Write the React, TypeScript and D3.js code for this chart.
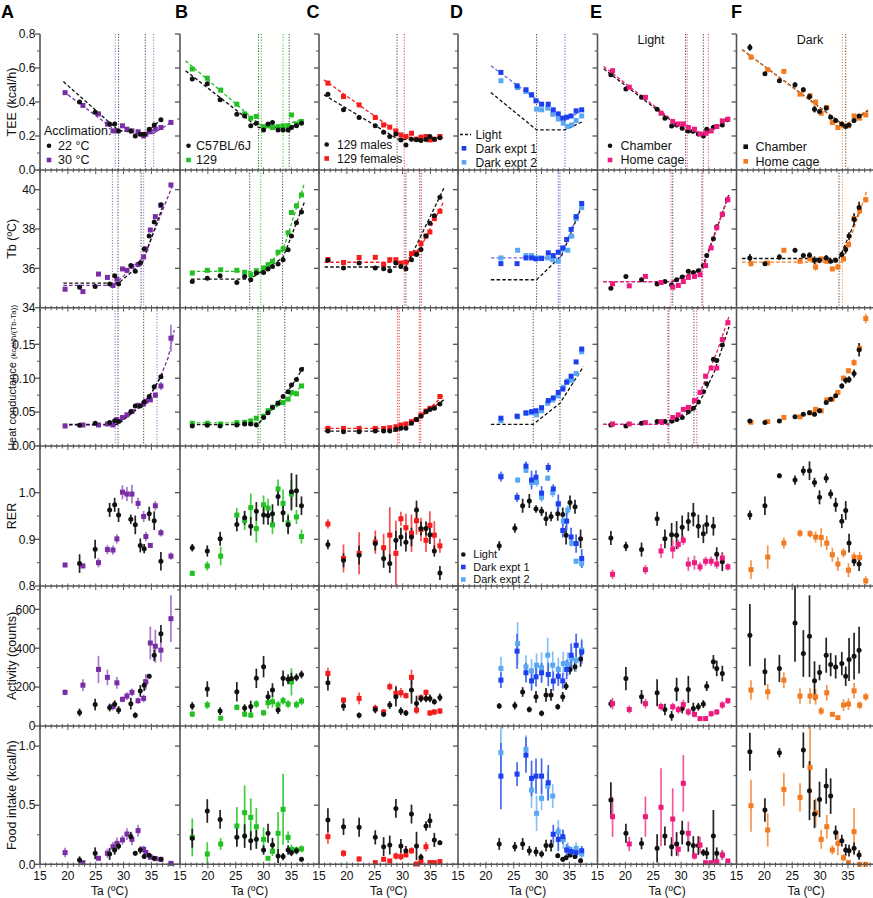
import React from "react";
import * as d3 from "d3";

// ---------------- colours ----------------
const BLACK = "#111111";
const PURPLE = "#7a2ea6";
const PURPLE_L = "#a679cc";
const GREEN = "#22c022";
const GREEN_L = "#3fd03f";
const RED = "#f41c1c";
const RED_L = "#f55050";
const BLUE1 = "#1d40ee";
const BLUE1_L = "#4668f0";
const BLUE2 = "#5aa8f2";
const BLUE2_L = "#86c0f5";
const PINK = "#ee1a7e";
const PINK_L = "#f25a9f";
const ORANGE = "#f47a20";
const ORANGE_L = "#f6964e";
const DARKFIT = "#6b6be0";
const GREYLINE = "#555555";

// ---------------- labels ----------------
const COL_LETTERS = ["A", "B", "C", "D", "E", "F"];
const X_TICKS = [15, 20, 25, 30, 35];
const Y_TICKS = [
  [0, 0.2, 0.4, 0.6, 0.8],
  [34, 36, 38, 40],
  [0, 0.05, 0.1, 0.15],
  [0.8, 0.9, 1.0],
  [0, 200, 400, 600],
  [0, 0.5, 1.0],
];
const Y_TICK_LABELS = [
  ["0.0", "0.2", "0.4", "0.6", "0.8"],
  ["34", "36", "38", "40"],
  ["0.00", "0.05", "0.10", "0.15"],
  ["0.8", "0.9", "1.0"],
  ["0", "200", "400", "600"],
  ["0.0", "0.5", "1.0"],
];
const Y_MINOR = [
  [0.1, 0.3, 0.5, 0.7],
  [35, 37, 39, 41],
  [0.025, 0.075, 0.125, 0.175],
  [0.85, 0.95, 1.05, 1.1],
  [100, 300, 500, 700],
  [0.25, 0.75],
];
const Y_DOMAINS = [
  [0, 0.8],
  [34, 41],
  [0, 0.204],
  [0.8, 1.1],
  [0, 720],
  [0, 1.17],
];

// ---------------- Column A: acclimation ----------------
const TA_A22 = [22.1, 24.9, 27.5, 28.4, 29.1, 31.3, 32.1, 33.0, 33.7, 34.6, 35.5, 36.7];
const TEE_A22 = [0.40, 0.34, 0.27, 0.27, 0.23, 0.23, 0.20, 0.21, 0.21, 0.24, 0.265, 0.295];
const TB_A22 = [35.04, 35.08, 35.2, 35.62, 35.21, 36.14, 35.85, 36.27, 36.99, 37.64, 38.36, 39.23];
const HC_A22 = [0.0305, 0.0335, 0.0345, 0.0374, 0.036, 0.0507, 0.059, 0.059, 0.065, 0.073, 0.0875, 0.102];
const RER_A22 = [0.848, 0.879, 0.963, 0.974, 0.952, 0.943, 0.931, 0.887, 0.88, 0.955, 0.94, 0.853];
const ACT_A22 = [70, 110, 95, 112, 82, 115, 55, 180, 210, 256, 364, 475];
const FOOD_A22 = [0.037, 0.093, 0.087, 0.121, 0.155, 0.234, 0.093, 0.121, 0.065, 0.076, 0.051, 0.042];
const RER_ERR_A22 = [0.02, 0.02, 0.015, 0.015, 0.015, 0.01, 0.02, 0.015, 0.01, 0.015, 0.02, 0.02];
const ACT_ERR_A22 = [20, 30, 20, 20, 20, 30, 15, 30, 30, 10, 30, 45];
const FOOD_ERR_A22 = [0.03, 0.05, 0.05, 0.04, 0.03, 0.04, 0.02, 0.03, 0.02, 0.02, 0.01, 0.01];

const TA_A30 = [19.5, 22.7, 25.5, 27.1, 28.1, 28.8, 29.8, 30.6, 31.5, 32.6, 33.6, 34.0, 34.8, 35.7, 36.7, 38.5];
const TEE_A30 = [0.455, 0.38, 0.33, 0.27, 0.23, 0.23, 0.26, 0.24, 0.23, 0.225, 0.20, 0.21, 0.225, 0.24, 0.25, 0.28];
const TB_A30 = [34.94, 34.82, 35.71, 35.54, 35.13, 35.45, 35.97, 35.9, 36.1, 36.2, 36.58, 36.99, 37.95, 38.63, 39.2, 40.24];
const HC_A30 = [0.0295, 0.031, 0.031, 0.0325, 0.031, 0.039, 0.042, 0.046, 0.051, 0.06, 0.062, 0.066, 0.068, 0.075, 0.0885, 0.159];
const RER_A30 = [0.845, 0.843, 0.85, 0.878, 0.877, 0.901, 1.001, 0.997, 0.997, 0.977, 0.949, 0.906, 0.887, 0.972, 0.914, 0.864];
const ACT_A30 = [173, 210, 291, 250, 100, 222, 137, 154, 173, 130, 142, 227, 427, 410, 390, 552];
const FOOD_A30 = [0.099, 0.014, 0.051, 0.093, 0.149, 0.177, 0.206, 0.256, 0.211, 0.285, 0.127, 0.1, 0.06, 0.048, 0.042, 0.008];
const HC_ERR_A30 = [0.001, 0.001, 0.001, 0.001, 0.001, 0.002, 0.002, 0.002, 0.002, 0.002, 0.003, 0.003, 0.003, 0.004, 0.006, 0.02];
const RER_ERR_A30 = [0.005, 0.005, 0.01, 0.01, 0.01, 0.01, 0.015, 0.015, 0.02, 0.012, 0.012, 0.01, 0.005, 0.01, 0.008, 0.008];
const ACT_ERR_A30 = [15, 30, 70, 40, 20, 30, 15, 20, 20, 15, 20, 40, 85, 85, 60, 120];
const FOOD_ERR_A30 = [0.04, 0.01, 0.02, 0.04, 0.04, 0.05, 0.04, 0.05, 0.05, 0.05, 0.03, 0.02, 0.02, 0.01, 0.01, 0.02];

const FIT_TEE_A22 = [[19.2, 0.52], [29.1, 0.232], [33.9, 0.215], [37, 0.305]];
const FIT_TEE_A30 = [[19.2, 0.462], [28.6, 0.232], [35.4, 0.215], [38.8, 0.285]];
const FIT_TB_A22 = [[19.2, 35.25], [29.1, 35.25], [33.4, 36.3], [37.1, 39.2]];
const FIT_TB_A30 = [[19.2, 35.13], [28.2, 35.13], [33.7, 36.6], [38.9, 40.3]];
const FIT_HC_A22 = [[19.2, 0.032], [29.0, 0.032], [31, 0.045], [33, 0.058], [35, 0.078], [37, 0.107]];
const FIT_HC_A30 = [[19.2, 0.031], [28.5, 0.031], [30.5, 0.043], [32.5, 0.056], [34.5, 0.072], [36.5, 0.1], [38, 0.13], [39.1, 0.171]];
const VL_TEE_A22 = [29.1, 33.9];
const VL_TEE_A30 = [28.5, 35.4];
const VL_TB_A22 = [29.0, 33.15];
const VL_TB_A30 = [28.0, 33.6];
const VL_HC_A22 = [29.0, 33.6];
const VL_HC_A30 = [28.5, 36.0];

// ---------------- Column B: strains ----------------
const TA_B6 = [17.2, 19.9, 22.2, 25.2, 26.6, 27.7, 28.7, 30.0, 30.8, 31.6, 32.6, 33.5, 34.4, 35.0, 35.9, 36.8];
const TEE_B6 = [0.535, 0.507, 0.413, 0.328, 0.318, 0.26, 0.275, 0.236, 0.27, 0.28, 0.236, 0.236, 0.236, 0.25, 0.26, 0.275];
const TB_B6 = [35.33, 35.5, 35.62, 35.28, 35.59, 35.42, 35.76, 35.79, 35.97, 36.1, 36.22, 36.44, 36.95, 37.64, 38.32, 38.87];
const HC_B6 = [0.0295, 0.0305, 0.0295, 0.031, 0.0325, 0.0325, 0.031, 0.042, 0.049, 0.057, 0.063, 0.073, 0.08, 0.09, 0.098, 0.113];
const RER_B6 = [0.882, 0.875, 0.901, 0.932, 0.946, 0.928, 0.96, 0.952, 0.951, 0.955, 0.992, 0.957, 0.931, 1.002, 1.004, 0.972];
const ACT_B6 = [103, 190, 77, 176, 92, 100, 245, 305, 150, 185, 82, 245, 240, 244, 250, 265];
const FOOD_B6 = [0.22, 0.451, 0.38, 0.228, 0.239, 0.2, 0.211, 0.121, 0.262, 0.163, 0.07, 0.065, 0.121, 0.099, 0.115, 0.042];
const RER_ERR_B6 = [0.008, 0.012, 0.015, 0.015, 0.015, 0.02, 0.02, 0.02, 0.02, 0.02, 0.02, 0.02, 0.02, 0.04, 0.035, 0.02];
const ACT_ERR_B6 = [20, 40, 20, 50, 20, 30, 50, 55, 30, 35, 20, 40, 25, 30, 20, 20];
const FOOD_ERR_B6 = [0.08, 0.1, 0.08, 0.08, 0.1, 0.08, 0.08, 0.04, 0.08, 0.06, 0.06, 0.03, 0.04, 0.03, 0.03, 0.02];

const TA_B129 = [17.2, 19.9, 22.3, 25.2, 26.6, 27.7, 28.7, 30.0, 30.8, 31.6, 32.6, 33.5, 34.4, 35.0, 35.9, 36.8];
const TEE_B129 = [0.594, 0.54, 0.47, 0.387, 0.33, 0.305, 0.315, 0.255, 0.26, 0.25, 0.255, 0.26, 0.26, 0.324, 0.271, 0.285];
const TB_B129 = [35.76, 35.9, 35.93, 35.9, 35.8, 35.68, 35.88, 36.02, 36.19, 36.36, 36.82, 36.99, 37.81, 38.84, 39.18, 39.73];
const HC_B129 = [0.0335, 0.0335, 0.0325, 0.0345, 0.035, 0.037, 0.041, 0.044, 0.052, 0.057, 0.063, 0.064, 0.069, 0.079, 0.077, 0.0885];
const RER_B129 = [0.827, 0.843, 0.864, 0.952, 0.94, 0.968, 0.923, 0.974, 0.967, 0.931, 1.008, 0.977, 0.935, 0.997, 0.948, 0.906];
const ACT_B129 = [61, 108, 40, 96, 61, 56, 113, 68, 120, 125, 108, 130, 113, 227, 110, 128];
const FOOD_B129 = [0.228, 0.087, 0.172, 0.324, 0.437, 0.397, 0.318, 0.211, 0.051, 0.11, 0.262, 0.465, 0.228, 0.127, 0.12, 0.13];
const RER_ERR_B129 = [0.006, 0.01, 0.02, 0.015, 0.02, 0.03, 0.03, 0.02, 0.02, 0.02, 0.02, 0.03, 0.02, 0.03, 0.015, 0.015];
const ACT_ERR_B129 = [15, 20, 10, 15, 15, 15, 20, 15, 30, 30, 20, 20, 20, 70, 20, 20];
const FOOD_ERR_B129 = [0.16, 0.1, 0.05, 0.16, 0.23, 0.16, 0.16, 0.1, 0.01, 0.04, 0.18, 0.3, 0.05, 0.04, 0.03, 0.03];

const FIT_TEE_B6 = [[16, 0.584], [29.1, 0.25], [34.6, 0.25], [36.8, 0.28]];
const FIT_TEE_B129 = [[16, 0.643], [29.6, 0.26], [33.5, 0.26], [36.8, 0.3]];
const FIT_TB_B6 = [[17, 35.45], [27.5, 35.45], [33.5, 36.55], [37.3, 39.35]];
const FIT_TB_B129 = [[17, 35.85], [29.5, 35.85], [33.5, 36.95], [37.3, 40.3]];
const FIT_HC_B6 = [[17, 0.0315], [28.9, 0.0315], [31, 0.05], [33, 0.068], [35, 0.088], [37.3, 0.118]];
const FIT_HC_B129 = [[17, 0.034], [29.2, 0.034], [31, 0.05], [33, 0.062], [35, 0.075], [37.3, 0.092]];
const VL_TEE_B6 = [29.1, 34.6];
const VL_TEE_B129 = [29.6, 33.5];
const VL_TB_B6 = [27.5, 33.4];
const VL_TB_B129 = [29.5];
const VL_HC_B6 = [29.0, 33.8];
const VL_HC_B129 = [29.4];

// ---------------- Column C: sex ----------------
const TA_CM = [16.6, 19.4, 22.2, 25.1, 26.6, 27.7, 28.8, 29.7, 30.6, 31.6, 32.5, 33.3, 34.2, 34.9, 35.7, 36.7];
const TEE_CM = [0.446, 0.354, 0.309, 0.26, 0.222, 0.197, 0.212, 0.177, 0.147, 0.181, 0.178, 0.173, 0.18, 0.197, 0.181, 0.19];
const TB_CM = [36.41, 36.02, 36.27, 36.02, 35.98, 35.88, 36.27, 36.1, 35.98, 36.44, 36.7, 36.96, 37.64, 38.29, 38.67, 39.61];
const HC_CM = [0.022, 0.021, 0.021, 0.022, 0.022, 0.022, 0.0246, 0.026, 0.026, 0.0334, 0.039, 0.044, 0.0507, 0.054, 0.0556, 0.062];
const RER_CM = [0.889, 0.855, 0.866, 0.891, 0.859, 0.848, 0.898, 0.905, 0.894, 0.905, 0.963, 0.923, 0.923, 0.91, 0.875, 0.828];
const ACT_CM = [222, 103, 55, 85, 61, 108, 150, 77, 67, 185, 116, 142, 142, 142, 125, 147];
const FOOD_CM = [0.375, 0.318, 0.313, 0.228, 0.149, 0.163, 0.473, 0.155, 0.115, 0.425, 0.155, 0.059, 0.324, 0.369, 0.206, 0.183];
const RER_ERR_CM = [0.01, 0.015, 0.02, 0.015, 0.02, 0.02, 0.02, 0.02, 0.02, 0.02, 0.02, 0.015, 0.015, 0.02, 0.012, 0.015];
const ACT_ERR_CM = [40, 25, 15, 20, 15, 20, 50, 20, 15, 70, 40, 20, 20, 20, 15, 20];
const FOOD_ERR_CM = [0.1, 0.07, 0.08, 0.06, 0.08, 0.08, 0.08, 0.06, 0.04, 0.08, 0.12, 0.03, 0.04, 0.06, 0.06, 0.02];

const TA_CF = [16.6, 19.4, 22.2, 25.1, 26.6, 27.7, 28.8, 29.7, 30.6, 31.6, 32.5, 33.3, 34.2, 34.9, 35.7, 36.7];
const TEE_CF = [0.511, 0.432, 0.383, 0.309, 0.265, 0.252, 0.23, 0.206, 0.197, 0.216, 0.181, 0.193, 0.197, 0.177, 0.181, 0.197];
const TB_CF = [36.45, 36.3, 36.55, 36.56, 36.19, 36.44, 36.44, 36.27, 36.31, 36.75, 36.79, 37.26, 37.64, 37.85, 38.53, 38.9];
const HC_CF = [0.026, 0.026, 0.026, 0.026, 0.026, 0.027, 0.0285, 0.031, 0.0325, 0.036, 0.039, 0.0457, 0.0516, 0.0556, 0.057, 0.073];
const RER_CF = [0.933, 0.859, 0.87, 0.894, 0.882, 0.909, 0.87, 0.944, 0.925, 0.913, 0.94, 0.921, 0.898, 0.93, 0.909, 0.886];
const ACT_CF = [270, 133, 142, 90, 72, 202, 168, 171, 156, 250, 82, 145, 173, 67, 72, 77];
const FOOD_CF = [0.234, 0.093, 0.045, 0.014, 0.042, 0.028, 0.07, 0.065, 0.079, 0.115, 0.003, 0.023, 0.149, 0.014, 0.014, 0.023];
const RER_ERR_CF = [0.01, 0.03, 0.045, 0.025, 0.03, 0.06, 0.07, 0.015, 0.03, 0.04, 0.03, 0.025, 0.025, 0.03, 0.03, 0.015];
const ACT_ERR_CF = [30, 15, 30, 20, 15, 20, 40, 25, 15, 40, 20, 15, 15, 15, 15, 15];
const FOOD_ERR_CF = [0.06, 0.03, 0.02, 0.01, 0.02, 0.01, 0.03, 0.03, 0.02, 0.03, 0.01, 0.01, 0.04, 0.01, 0.01, 0.01];

const FIT_TEE_CM = [[15.9, 0.442], [29.2, 0.181], [33.4, 0.178], [37, 0.19]];
const FIT_TEE_CF = [[15.9, 0.53], [30.3, 0.193], [37.3, 0.19]];
const FIT_TB_CM = [[16, 36.07], [30.6, 36.07], [37.4, 40.07]];
const FIT_TB_CF = [[16, 36.31], [30.3, 36.31], [33.3, 37.09], [37.3, 39.35]];
const FIT_HC_CM = [[16, 0.022], [29, 0.022], [31, 0.03], [33, 0.042], [35, 0.054], [37.4, 0.068]];
const FIT_HC_CF = [[16, 0.026], [28.8, 0.026], [31, 0.035], [33, 0.045], [35, 0.056], [37.3, 0.075]];
const VL_TEE_CM = [29.0];
const VL_TEE_CF = [30.3];
const VL_TB_CM = [30.6, 33.1];
const VL_TB_CF = [30.3, 33.4];
const VL_HC_CM = [29.4, 33.25];
const VL_HC_CF = [29.1, 33.0];

// ---------------- Column D: light / dark ----------------
const TA_D1 = [22.7, 25.6, 27.2, 28.2, 29.0, 30.0, 31.2, 32.1, 33.0, 33.8, 34.5, 35.3, 36.2, 37.2];
const TEE_D1 = [0.574, 0.495, 0.472, 0.442, 0.407, 0.387, 0.387, 0.354, 0.33, 0.305, 0.311, 0.318, 0.348, 0.354];
const TB_D1 = [36.24, 36.24, 36.53, 36.53, 36.48, 36.5, 36.79, 36.65, 36.82, 37.04, 37.47, 37.98, 38.63, 39.3];
const HC_D1 = [0.041, 0.044, 0.049, 0.0507, 0.052, 0.0566, 0.067, 0.071, 0.079, 0.084, 0.094, 0.103, 0.124, 0.143];
const RER_D1 = [1.034, 0.99, 1.057, 1.027, 1.033, 0.999, 1.054, 1.008, 0.976, 0.919, 0.939, 0.905, 0.891, 0.859];
const ACT_D1 = [236, 385, 274, 232, 253, 274, 265, 231, 256, 232, 291, 364, 415, 381];
const FOOD_D1 = [0.746, 0.763, 0.924, 0.727, 0.746, 0.746, 0.69, 0.254, 0.211, 0.234, 0.121, 0.107, 0.099, 0.115];
const RER_ERR_D1 = [0.01, 0.01, 0.01, 0.02, 0.015, 0.015, 0.01, 0.01, 0.02, 0.015, 0.02, 0.02, 0.02, 0.02];
const ACT_ERR_D1 = [40, 90, 50, 50, 50, 50, 60, 50, 50, 40, 50, 60, 60, 60];
const FOOD_ERR_D1 = [0.28, 0.1, 0.15, 0.15, 0.15, 0.15, 0.15, 0.08, 0.1, 0.06, 0.05, 0.04, 0.04, 0.04];

const TA_D2 = [22.7, 25.7, 27.2, 28.2, 29.1, 30.0, 31.1, 32.0, 33.0, 33.9, 34.7, 35.4, 36.2, 37.2];
const TEE_D2 = [0.525, 0.485, 0.462, 0.442, 0.358, 0.354, 0.364, 0.328, 0.3, 0.275, 0.256, 0.265, 0.291, 0.318];
const TB_D2 = [36.53, 36.92, 36.65, 36.65, 36.53, 36.53, 36.53, 36.44, 36.36, 36.99, 36.92, 37.64, 38.53, 39.09];
const HC_D2 = [0.0374, 0.043, 0.048, 0.049, 0.046, 0.052, 0.063, 0.068, 0.074, 0.0866, 0.096, 0.097, 0.107, 0.139];
const RER_D2 = [1.036, 1.027, 1.048, 1.022, 1.022, 0.99, 1.031, 1.0, 0.976, 0.939, 0.963, 0.892, 0.853, 0.848];
const ACT_D2 = [296, 424, 304, 284, 313, 300, 364, 313, 291, 321, 318, 347, 338, 390];
const FOOD_D2 = [0.944, null, 0.972, 0.628, 0.431, 0.558, 0.662, 0.577, 0.276, 0.211, 0.135, 0.107, 0.135, 0.087];
const RER_ERR_D2 = [0.01, 0.006, 0.006, 0.01, 0.01, 0.01, 0.006, 0.01, 0.01, 0.01, 0.01, 0.006, 0.006, 0.01];
const ACT_ERR_D2 = [60, 110, 60, 60, 60, 80, 90, 70, 60, 60, 60, 60, 60, 60];
const FOOD_ERR_D2 = [0.22, 0, 0.12, 0.15, 0.15, 0.1, 0.12, 0.1, 0.1, 0.08, 0.05, 0.04, 0.05, 0.04];

const TA_DL = [22.4, 25.2, 26.6, 27.8, 29.0, 30.0, 30.8, 31.7, 32.9, 33.8, 34.4, 35.1, 36.0, 37.0];
const RER_DL = [0.886, 0.924, 0.972, 0.982, 0.965, 0.96, 0.944, 0.949, 0.955, 0.953, 0.909, 0.979, 0.97, 0.901];
const ACT_DL = [103, 105, 175, 85, 150, 65, 160, 160, 99, 150, 205, 290, 305, 345];
const FOOD_DL = [0.172, 0.149, 0.172, 0.115, 0.107, 0.087, 0.158, 0.158, 0.073, 0.042, 0.056, 0.079, 0.065, 0.031];
const RER_ERR_DL = [0.01, 0.01, 0.015, 0.015, 0.008, 0.01, 0.015, 0.01, 0.015, 0.015, 0.02, 0.015, 0.015, 0.02];
const ACT_ERR_DL = [15, 20, 25, 15, 30, 15, 35, 30, 15, 25, 20, 25, 25, 40];
const FOOD_ERR_DL = [0.05, 0.04, 0.05, 0.04, 0.04, 0.03, 0.05, 0.05, 0.02, 0.02, 0.02, 0.02, 0.02, 0.02];

const FIT_TEE_DL = [[20.9, 0.456], [29.1, 0.236], [34.2, 0.236], [37.4, 0.285]];
const FIT_TEE_DD = [[20.9, 0.613], [34.2, 0.291], [37.4, 0.354]];
const FIT_TB_DL = [[20.9, 35.42], [29.1, 35.42], [33.6, 36.65], [37.5, 39.35]];
const FIT_TB_DD = [[20.9, 36.53], [33.3, 36.53], [37.5, 39.44]];
const FIT_HC_DL = [[20.9, 0.032], [28.5, 0.032], [33.3, 0.063], [37.5, 0.117]];
const VL_TEE_DL = [29.1];
const VL_TEE_DD = [34.2];
const VL_TB_DL = [29.1];
const VL_TB_DD = [33.0, 33.3];
const VL_HC_DL = [28.5, 33.3];

// ---------------- Column E: light, chamber vs home cage ----------------
const TA_EC = [17.4, 20.1, 22.9, 25.7, 27.1, 28.3, 29.2, 30.2, 31.3, 32.2, 33.1, 34.0, 34.6, 35.8, 36.4, 37.4, 38.3];
const TEE_EC = [0.56, 0.476, 0.428, 0.358, 0.305, 0.259, 0.265, 0.246, 0.23, 0.23, 0.212, 0.2, 0.24, 0.252, 0.256, 0.265, 0.295];
const TB_EC = [34.99, 35.59, 35.42, 35.2, 35.33, 35.16, 35.42, 35.56, 35.85, 35.79, 35.88, 36.14, 36.65, 37.5, 38.12, 38.75, 39.49];
const HC_EC = [0.031, 0.0295, 0.0335, 0.036, 0.036, 0.037, 0.039, 0.042, 0.0507, 0.0556, 0.065, 0.08, 0.092, 0.128, 0.126, 0.149, null];
const RER_EC = [0.903, 0.885, 0.878, 0.944, 0.901, 0.91, 0.909, 0.926, 0.938, 0.953, 0.928, 0.912, 0.932, 0.928, 0.868, 0.852, null];
const ACT_EC = [115, 244, 150, 171, 85, 52, 188, 90, 188, 90, 99, 113, 205, 330, 296, 270, null];
const FOOD_EC = [0.544, 0.262, 0.177, 0.135, 0.239, 0.149, 0.172, 0.268, 0.177, 0.158, 0.158, 0.099, 0.093, 0.239, 0.093, 0.079, null];
const RER_ERR_EC = [0.015, 0.01, 0.015, 0.015, 0.02, 0.025, 0.03, 0.025, 0.02, 0.025, 0.025, 0.02, 0.02, 0.02, 0.015, 0.02, 0];
const ACT_ERR_EC = [20, 60, 35, 70, 30, 25, 60, 25, 70, 30, 20, 20, 25, 35, 40, 40, 0];
const FOOD_ERR_EC = [0.15, 0.08, 0.05, 0.12, 0.08, 0.08, 0.1, 0.1, 0.07, 0.08, 0.08, 0.03, 0.05, 0.22, 0.05, 0.04, 0];

const TA_EH = [17.7, 20.7, 23.6, 26.4, 28.5, 29.5, 30.4, 31.3, 32.4, 33.4, 34.4, 35.4, 36.4, 37.4, 38.4];
const TEE_EH = [0.584, 0.487, 0.427, 0.334, 0.285, 0.271, 0.271, 0.25, 0.24, 0.212, 0.216, 0.23, 0.256, 0.289, 0.299];
const TB_EH = [35.21, 35.11, 35.59, 35.28, 35.04, 35.13, 35.33, 35.54, 35.59, 35.68, 36.14, 37.04, 38.07, 38.75, 39.49];
const HC_EH = [0.0325, 0.0325, 0.0345, 0.036, 0.042, 0.046, 0.054, 0.057, 0.067, 0.079, 0.103, 0.115, 0.115, 0.157, 0.182];
const RER_EH = [0.825, null, 0.835, 0.875, 0.879, 0.889, 0.898, 0.847, 0.85, 0.841, 0.853, 0.853, 0.847, 0.86, 0.841];
const ACT_EH = [115, 85, 115, 100, 99, 84, 110, 72, 60, 38, 38, 63, 72, 108, 130];
const FOOD_EH = [0.403, 0.172, 0.403, 0.482, 0.383, 0.127, 0.685, 0.262, 0.07, 0.163, 0.014, 0.014, 0.023, 0.079, 0.028];
const RER_ERR_EH = [0.01, 0, 0.01, 0.015, 0.02, 0.01, 0.01, 0.015, 0.015, 0.01, 0.01, 0.01, 0.01, 0.01, 0.008];
const ACT_ERR_EH = [30, 20, 25, 20, 20, 20, 25, 20, 15, 10, 10, 15, 15, 20, 15];
const FOOD_ERR_EH = [0.17, 0.06, 0.17, 0.33, 0.26, 0.06, 0.24, 0.1, 0.03, 0.07, 0.01, 0.01, 0.01, 0.04, 0.01];

const FIT_TEE_EC = [[16.1, 0.595], [30.8, 0.226], [34.0, 0.206], [38.5, 0.299]];
const FIT_TEE_EH = [[16.1, 0.609], [31.1, 0.226], [34.9, 0.216], [38.5, 0.305]];
const FIT_TB_EC = [[16, 35.33], [28.5, 35.33], [33.75, 36.0], [38.6, 39.73]];
const FIT_TB_EH = [[16, 35.33], [28.2, 35.33], [33.9, 35.95], [38.6, 39.8]];
const FIT_HC_EC = [[16, 0.032], [27.8, 0.032], [30, 0.04], [32.3, 0.055], [34, 0.075], [36, 0.11], [38.6, 0.176]];
const FIT_HC_EH = [[16, 0.032], [27.6, 0.032], [30, 0.045], [32.8, 0.068], [34.5, 0.1], [36.5, 0.14], [38.6, 0.191]];
const VL_TEE_EC = [30.8, 34.0];
const VL_TEE_EH = [31.1, 34.9];
const VL_TB_EC = [28.5, 33.75];
const VL_TB_EH = [28.2, 33.9];
const VL_HC_EC = [27.8, 32.3];
const VL_HC_EH = [27.6, 32.8];

// ---------------- Column F: dark, chamber vs home cage ----------------
const TA_FC = [17.4, 20.1, 22.7, 25.5, 27.0, 28.1, 29.0, 29.9, 31.1, 31.9, 32.8, 33.9, 34.6, 35.2, 36.1, 37.0];
const TEE_FC = [0.721, 0.566, 0.525, 0.501, 0.472, 0.432, 0.358, 0.344, 0.364, 0.31, 0.291, 0.271, 0.256, 0.265, 0.291, 0.318];
const TB_FC = [36.53, 36.24, 36.58, 36.92, 36.65, 36.67, 36.41, 36.41, 36.53, 36.36, 36.41, 36.7, 36.96, 37.64, 38.5, 39.09];
const HC_FC = [0.037, 0.0345, 0.037, 0.043, 0.0467, 0.049, 0.0467, 0.052, 0.064, 0.069, 0.074, 0.0885, 0.097, 0.098, 0.107, 0.142];
const RER_FC = [0.952, 0.972, 1.036, 1.027, 1.047, 1.047, 1.022, 0.99, 1.031, 0.997, 0.974, 0.939, 0.962, 0.892, 0.853, 0.847];
const ACT_FC = [467, 279, 296, 530, 373, 462, 233, 275, 364, 316, 304, 321, 256, 342, 359, 390];
const FOOD_FC = [0.952, 0.459, 0.944, null, 0.966, 0.623, 0.425, 0.549, 0.662, 0.577, 0.268, 0.2, 0.121, 0.115, 0.135, 0.079];
const TEE_ERR_FC = [0.02, 0.01, 0.01, 0.015, 0.015, 0.02, 0.02, 0.01, 0.015, 0.01, 0.015, 0.01, 0.01, 0.01, 0.01, 0.01];
const TB_ERR_FC = [0.2, 0.1, 0.15, 0.1, 0.1, 0.15, 0.2, 0.15, 0.15, 0.1, 0.1, 0.15, 0.2, 0.2, 0.3, 0.3];
const HC_ERR_FC = [0.003, 0.002, 0.002, 0.002, 0.002, 0.003, 0.003, 0.003, 0.003, 0.003, 0.003, 0.004, 0.005, 0.005, 0.006, 0.01];
const RER_ERR_FC = [0.01, 0.02, 0.005, 0.01, 0.01, 0.02, 0.01, 0.015, 0.01, 0.01, 0.015, 0.015, 0.02, 0.02, 0.01, 0.015];
const ACT_ERR_FC = [160, 70, 70, 200, 120, 210, 100, 40, 90, 60, 60, 60, 50, 110, 120, 120];
const FOOD_ERR_FC = [0.16, 0.1, 0.04, 0, 0.15, 0.25, 0.12, 0.15, 0.15, 0.15, 0.06, 0.05, 0.05, 0.05, 0.05, 0.04];

const TA_FH = [17.6, 20.6, 23.5, 26.4, 28.2, 29.2, 30.2, 31.2, 32.2, 33.2, 34.2, 35.1, 36.1, 37.1, 38.2];
const TEE_FH = [0.664, 0.59, 0.58, 0.446, 0.436, 0.399, 0.334, 0.368, 0.279, 0.25, 0.26, 0.26, 0.318, 0.305, 0.324];
const TB_FH = [36.24, 36.27, 36.92, 36.36, 36.48, 36.07, 36.48, 36.36, 35.97, 36.07, 36.48, 37.21, 38.53, 38.92, 39.49];
const HC_FH = [0.035, 0.036, 0.042, 0.043, 0.049, 0.054, 0.052, 0.068, 0.069, 0.079, 0.1, 0.111, 0.123, 0.144, 0.188];
const RER_FH = [0.835, 0.862, 0.892, 0.913, 0.912, 0.905, 0.904, 0.892, 0.867, 0.847, 0.871, 0.834, 0.862, 0.861, 0.811];
const ACT_FH = [185, 176, 236, 154, 154, 150, 77, 171, 60, 43, 108, 113, 181, 107, 150];
const FOOD_FH = [0.496, 0.29, 0.634, 0.566, 0.82, 0.437, 0.211, 0.318, 0.121, 0.177, 0.056, 0.014, 0.276, 0.0, 0.0];
const TEE_ERR_FH = [0.015, 0.01, 0.01, 0.01, 0.01, 0.015, 0.01, 0.01, 0.01, 0.01, 0.01, 0.01, 0.01, 0.01, 0.01];
const TB_ERR_FH = [0.15, 0.1, 0.1, 0.1, 0.1, 0.2, 0.1, 0.1, 0.1, 0.15, 0.15, 0.15, 0.2, 0.15, 0.15];
const HC_ERR_FH = [0.002, 0.002, 0.002, 0.002, 0.002, 0.002, 0.002, 0.003, 0.003, 0.003, 0.004, 0.004, 0.005, 0.006, 0.007];
const RER_ERR_FH = [0.02, 0.025, 0.012, 0.008, 0.008, 0.012, 0.02, 0.015, 0.015, 0.015, 0.01, 0.015, 0.01, 0.012, 0.01];
const ACT_ERR_FH = [50, 40, 40, 40, 40, 40, 20, 40, 10, 10, 30, 30, 40, 20, 20];
const FOOD_ERR_FH = [0.22, 0.14, 0.14, 0.12, 0.35, 0.12, 0.08, 0.1, 0.04, 0.1, 0.03, 0.01, 0.2, 0, 0];

const FIT_TEE_FC = [[16, 0.708], [34.6, 0.255], [38.6, 0.35]];
const FIT_TEE_FH = [[16, 0.708], [34.2, 0.26], [38.6, 0.354]];
const FIT_TB_FC = [[16, 36.5], [33.4, 36.5], [37.4, 39.09]];
const FIT_TB_FH = [[16, 36.32], [34.0, 36.32], [38.4, 39.95]];
const VL_TEE_FC = [34.6];
const VL_TEE_FH = [34.0];
const VL_TB_FC = [33.4];
const VL_TB_FH = [34.0];

// ---------------- assembly ----------------
type Ser = {
  color: string;
  errColor: string;
  marker: "circle" | "square";
  ta: number[];
  vals: ((number | null)[] | null)[];
  errs: (number[] | null)[];
};

const SERIES: Ser[][] = [
  [
    { color: PURPLE, errColor: PURPLE_L, marker: "square", ta: TA_A30, vals: [TEE_A30, TB_A30, HC_A30, RER_A30, ACT_A30, FOOD_A30], errs: [null, null, HC_ERR_A30, RER_ERR_A30, ACT_ERR_A30, FOOD_ERR_A30] },
    { color: BLACK, errColor: "#222", marker: "circle", ta: TA_A22, vals: [TEE_A22, TB_A22, HC_A22, RER_A22, ACT_A22, FOOD_A22], errs: [null, null, null, RER_ERR_A22, ACT_ERR_A22, FOOD_ERR_A22] },
  ],
  [
    { color: GREEN, errColor: GREEN_L, marker: "square", ta: TA_B129, vals: [TEE_B129, TB_B129, HC_B129, RER_B129, ACT_B129, FOOD_B129], errs: [null, null, null, RER_ERR_B129, ACT_ERR_B129, FOOD_ERR_B129] },
    { color: BLACK, errColor: "#222", marker: "circle", ta: TA_B6, vals: [TEE_B6, TB_B6, HC_B6, RER_B6, ACT_B6, FOOD_B6], errs: [null, null, null, RER_ERR_B6, ACT_ERR_B6, FOOD_ERR_B6] },
  ],
  [
    { color: RED, errColor: RED_L, marker: "square", ta: TA_CF, vals: [TEE_CF, TB_CF, HC_CF, RER_CF, ACT_CF, FOOD_CF], errs: [null, null, null, RER_ERR_CF, ACT_ERR_CF, FOOD_ERR_CF] },
    { color: BLACK, errColor: "#222", marker: "circle", ta: TA_CM, vals: [TEE_CM, TB_CM, HC_CM, RER_CM, ACT_CM, FOOD_CM], errs: [null, null, null, RER_ERR_CM, ACT_ERR_CM, FOOD_ERR_CM] },
  ],
  [
    { color: BLACK, errColor: "#222", marker: "circle", ta: TA_DL, vals: [null, null, null, RER_DL, ACT_DL, FOOD_DL], errs: [null, null, null, RER_ERR_DL, ACT_ERR_DL, FOOD_ERR_DL] },
    { color: BLUE2, errColor: BLUE2_L, marker: "square", ta: TA_D2, vals: [TEE_D2, TB_D2, HC_D2, RER_D2, ACT_D2, FOOD_D2], errs: [null, null, null, RER_ERR_D2, ACT_ERR_D2, FOOD_ERR_D2] },
    { color: BLUE1, errColor: BLUE1_L, marker: "square", ta: TA_D1, vals: [TEE_D1, TB_D1, HC_D1, RER_D1, ACT_D1, FOOD_D1], errs: [null, null, null, RER_ERR_D1, ACT_ERR_D1, FOOD_ERR_D1] },
  ],
  [
    { color: BLACK, errColor: "#222", marker: "circle", ta: TA_EC, vals: [TEE_EC, TB_EC, HC_EC, RER_EC, ACT_EC, FOOD_EC], errs: [null, null, null, RER_ERR_EC, ACT_ERR_EC, FOOD_ERR_EC] },
    { color: PINK, errColor: PINK_L, marker: "square", ta: TA_EH, vals: [TEE_EH, TB_EH, HC_EH, RER_EH, ACT_EH, FOOD_EH], errs: [null, null, null, RER_ERR_EH, ACT_ERR_EH, FOOD_ERR_EH] },
  ],
  [
    { color: ORANGE, errColor: ORANGE_L, marker: "square", ta: TA_FH, vals: [TEE_FH, TB_FH, HC_FH, RER_FH, ACT_FH, FOOD_FH], errs: [TEE_ERR_FH, TB_ERR_FH, HC_ERR_FH, RER_ERR_FH, ACT_ERR_FH, FOOD_ERR_FH] },
    { color: BLACK, errColor: "#222", marker: "circle", ta: TA_FC, vals: [TEE_FC, TB_FC, HC_FC, RER_FC, ACT_FC, FOOD_FC], errs: [TEE_ERR_FC, TB_ERR_FC, HC_ERR_FC, RER_ERR_FC, ACT_ERR_FC, FOOD_ERR_FC] },
  ],
];

type Fit = { pts: number[][]; color: string };
const FITS: Fit[][][] = [
  [
    [{ pts: FIT_TEE_A30, color: PURPLE }, { pts: FIT_TEE_A22, color: BLACK }],
    [{ pts: FIT_TB_A30, color: PURPLE }, { pts: FIT_TB_A22, color: BLACK }],
    [{ pts: FIT_HC_A30, color: PURPLE }, { pts: FIT_HC_A22, color: BLACK }],
    [], [], [],
  ],
  [
    [{ pts: FIT_TEE_B129, color: GREEN }, { pts: FIT_TEE_B6, color: BLACK }],
    [{ pts: FIT_TB_B129, color: GREEN }, { pts: FIT_TB_B6, color: BLACK }],
    [{ pts: FIT_HC_B129, color: GREEN }, { pts: FIT_HC_B6, color: BLACK }],
    [], [], [],
  ],
  [
    [{ pts: FIT_TEE_CF, color: RED }, { pts: FIT_TEE_CM, color: BLACK }],
    [{ pts: FIT_TB_CF, color: RED }, { pts: FIT_TB_CM, color: BLACK }],
    [{ pts: FIT_HC_CF, color: RED }, { pts: FIT_HC_CM, color: BLACK }],
    [], [], [],
  ],
  [
    [{ pts: FIT_TEE_DL, color: BLACK }, { pts: FIT_TEE_DD, color: DARKFIT }],
    [{ pts: FIT_TB_DL, color: BLACK }, { pts: FIT_TB_DD, color: DARKFIT }],
    [{ pts: FIT_HC_DL, color: BLACK }],
    [], [], [],
  ],
  [
    [{ pts: FIT_TEE_EC, color: BLACK }, { pts: FIT_TEE_EH, color: PINK }],
    [{ pts: FIT_TB_EC, color: BLACK }, { pts: FIT_TB_EH, color: PINK }],
    [{ pts: FIT_HC_EC, color: BLACK }, { pts: FIT_HC_EH, color: PINK }],
    [], [], [],
  ],
  [
    [{ pts: FIT_TEE_FC, color: BLACK }, { pts: FIT_TEE_FH, color: ORANGE }],
    [{ pts: FIT_TB_FC, color: BLACK }, { pts: FIT_TB_FH, color: ORANGE }],
    [], [], [], [],
  ],
];

type VL = { xs: number[]; color: string };
const VLINES: VL[][][] = [
  [[{ xs: VL_TEE_A22, color: GREYLINE }, { xs: VL_TEE_A30, color: PURPLE_L }], [{ xs: VL_TB_A22, color: GREYLINE }, { xs: VL_TB_A30, color: PURPLE_L }], [{ xs: VL_HC_A22, color: GREYLINE }, { xs: VL_HC_A30, color: PURPLE_L }]],
  [[{ xs: VL_TEE_B6, color: GREYLINE }, { xs: VL_TEE_B129, color: GREEN_L }], [{ xs: VL_TB_B6, color: GREYLINE }, { xs: VL_TB_B129, color: GREEN_L }], [{ xs: VL_HC_B6, color: GREYLINE }, { xs: VL_HC_B129, color: GREEN_L }]],
  [[{ xs: VL_TEE_CM, color: GREYLINE }, { xs: VL_TEE_CF, color: RED_L }], [{ xs: VL_TB_CM, color: GREYLINE }, { xs: VL_TB_CF, color: RED_L }], [{ xs: VL_HC_CM, color: RED_L }, { xs: VL_HC_CF, color: RED_L }]],
  [[{ xs: VL_TEE_DL, color: GREYLINE }, { xs: VL_TEE_DD, color: DARKFIT }], [{ xs: VL_TB_DL, color: GREYLINE }, { xs: VL_TB_DD, color: DARKFIT }], [{ xs: VL_HC_DL, color: GREYLINE }]],
  [[{ xs: VL_TEE_EC, color: GREYLINE }, { xs: VL_TEE_EH, color: PINK_L }], [{ xs: VL_TB_EC, color: GREYLINE }, { xs: VL_TB_EH, color: PINK_L }], [{ xs: VL_HC_EC, color: GREYLINE }, { xs: VL_HC_EH, color: PINK_L }]],
  [[{ xs: VL_TEE_FC, color: GREYLINE }, { xs: VL_TEE_FH, color: ORANGE_L }], [{ xs: VL_TB_FC, color: GREYLINE }, { xs: VL_TB_FH, color: ORANGE_L }], []],
];

// ---------------- layout ----------------
const W = 873;
const H = 898;
const FONT = "'Liberation Sans', Arial, Helvetica, sans-serif";
const COL_X = [40, 180, 319, 458, 597.5, 736.5];
const COL_W = 139.3;
const ROW_Y = [34, 170, 307.7, 446, 586, 726, 864.3];
const AXIS_COLOR = "#555";

function Marker({ x, y, kind, color, size }: { x: number; y: number; kind: string; color: string; size: number }) {
  if (kind === "circle") return <circle cx={x} cy={y} r={size / 2} fill={color} />;
  return <rect x={x - size / 2} y={y - size / 2} width={size} height={size} fill={color} />;
}

export default function App() {
  const xs = COL_X.map((x0) => d3.scaleLinear().domain([15, 40]).range([x0, x0 + COL_W]));
  const ys = Y_DOMAINS.map((d, r) => d3.scaleLinear().domain(d).range([ROW_Y[r + 1], ROW_Y[r]]));
  const minorX = d3.range(15, 40, 1);

  const panels: React.ReactNode[] = [];
  for (let c = 0; c < 6; c++) {
    const xsc = xs[c];
    for (let r = 0; r < 6; r++) {
      const ysc = ys[r];
      const top = ROW_Y[r];
      const bot = ROW_Y[r + 1];
      const line = d3.line<number[]>().x((p) => xsc(p[0])).y((p) => ysc(p[1]));
      const items: React.ReactNode[] = [];
      const vls = (VLINES[c] && VLINES[c][r]) || [];
      vls.forEach((vl, k) =>
        vl.xs.forEach((xv, j) => {
          items.push(
            <line key={`vl${k}-${j}`} x1={xsc(xv)} x2={xsc(xv)} y1={top} y2={bot} stroke={vl.color} strokeWidth={1.1} strokeDasharray="1.2,1.6" />
          );
        })
      );
      (FITS[c][r] || []).forEach((f, k) =>
        items.push(
          <path key={`fit${k}`} d={line(f.pts) || ""} fill="none" stroke={f.color} strokeWidth={1.3} strokeDasharray="3.5,2.2" />
        )
      );
      SERIES[c].forEach((s, si) => {
        const vals = s.vals[r];
        if (!vals) return;
        const errs = s.errs[r];
        vals.forEach((v, i) => {
          if (v === null || v === undefined) return;
          const x = xsc(s.ta[i]);
          const e = errs ? errs[i] : 0;
          if (e && e > 0) {
            const y1 = Math.max(top, Math.min(bot, ysc(v + e)));
            const y2 = Math.max(top, Math.min(bot, ysc(v - e)));
            items.push(<line key={`e${si}-${i}`} x1={x} x2={x} y1={y1} y2={y2} stroke={s.errColor} strokeWidth={1.7} />);
          }
        });
      });
      SERIES[c].forEach((s, si) => {
        const vals = s.vals[r];
        if (!vals) return;
        vals.forEach((v, i) => {
          if (v === null || v === undefined) return;
          items.push(<Marker key={`m${si}-${i}`} x={xsc(s.ta[i])} y={ysc(v)} kind={s.marker} color={s.color} size={5} />);
        });
      });
      panels.push(<g key={`p${c}-${r}`}>{items}</g>);
    }
  }

  const axes: React.ReactNode[] = [];
  for (let c = 0; c < 6; c++) {
    const xsc = xs[c];
    const x0 = COL_X[c];
    axes.push(<line key={`ya${c}`} x1={x0} x2={x0} y1={ROW_Y[0]} y2={ROW_Y[6]} stroke={AXIS_COLOR} strokeWidth={1.6} />);
    for (let r = 0; r < 6; r++) {
      const yb = ROW_Y[r + 1];
      const ysc = ys[r];
      axes.push(<line key={`xa${c}-${r}`} x1={x0} x2={x0 + COL_W} y1={yb} y2={yb} stroke={AXIS_COLOR} strokeWidth={1.6} />);
      minorX.forEach((t) => {
        const major = t % 5 === 0;
        axes.push(
          <line key={`xt${c}-${r}-${t}`} x1={xsc(t)} x2={xsc(t)} y1={yb - (major ? 2.5 : 1.8)} y2={yb + (major ? 4 : 2.5)} stroke={AXIS_COLOR} strokeWidth={1} />
        );
      });
      Y_TICKS[r].forEach((t, i) => {
        const y = ysc(t);
        axes.push(<line key={`yt${c}-${r}-${i}`} x1={x0 - 5} x2={x0} y1={y} y2={y} stroke={AXIS_COLOR} strokeWidth={1.3} />);
        if (c === 0) {
          axes.push(
            <text key={`yl${r}-${i}`} x={x0 - 4.5} y={y + 4.3} textAnchor="end" fontSize={12} fontFamily={FONT} fill="#111">
              {Y_TICK_LABELS[r][i]}
            </text>
          );
        }
      });
      Y_MINOR[r].forEach((t, i) => {
        const y = ysc(t);
        axes.push(<line key={`ym${c}-${r}-${i}`} x1={x0 - 3} x2={x0} y1={y} y2={y} stroke={AXIS_COLOR} strokeWidth={1} />);
      });
    }
    X_TICKS.forEach((t) =>
      axes.push(
        <text key={`xl${c}-${t}`} x={xsc(t)} y={880} textAnchor="middle" fontSize={12} fontFamily={FONT} fill="#111">
          {t}
        </text>
      )
    );
    axes.push(
      <text key={`xtitle${c}`} x={x0 + COL_W / 2} y={894.5} textAnchor="middle" fontSize={12} fontFamily={FONT} fill="#111">
        Ta (ºC)
      </text>
    );
  }

  const rowMid = (r: number) => (ROW_Y[r] + ROW_Y[r + 1]) / 2;
  const LETTER_X = [1, 175, 306.5, 450, 590, 731];

  const leg = (x: number, y: number, kind: string, color: string, label: string, key: string, tx: number, fs: number) => (
    <g key={key}>
      <Marker x={x} y={y} kind={kind} color={color} size={4.6} />
      <text x={tx} y={y + fs * 0.35} fontSize={fs} fontFamily={FONT} fill="#111">
        {label}
      </text>
    </g>
  );

  return (
    <svg width={W} height={H} style={{ position: "absolute", left: 0, top: 0, background: "#fff" }} xmlns="http://www.w3.org/2000/svg">
      <rect x={0} y={0} width={W} height={H} fill="#fff" />
      {panels}
      {axes}
      {COL_LETTERS.map((l, i) => (
        <text key={l} x={LETTER_X[i]} y={17.5} fontSize={18} fontWeight="bold" fontFamily={FONT} fill="#000">
          {l}
        </text>
      ))}
      <text transform={`translate(15.5,${rowMid(0)}) rotate(-90)`} textAnchor="middle" fontSize={12.5} fontFamily={FONT} fill="#111">TEE (kcal/h)</text>
      <text transform={`translate(15.5,${rowMid(1)}) rotate(-90)`} textAnchor="middle" fontSize={12.5} fontFamily={FONT} fill="#111">Tb (ºC)</text>
      <text transform={`translate(15.5,${rowMid(2) + 1}) rotate(-90)`} textAnchor="middle" fontFamily={FONT} fill="#111">
        <tspan fontSize={11}>Heat conductance </tspan>
        <tspan fontSize={8}>(kcal/h/(Tb-Ta))</tspan>
      </text>
      <text transform={`translate(15.5,${rowMid(3)}) rotate(-90)`} textAnchor="middle" fontSize={12.5} fontFamily={FONT} fill="#111">RER</text>
      <text transform={`translate(15.5,${rowMid(4)}) rotate(-90)`} textAnchor="middle" fontSize={12.5} fontFamily={FONT} fill="#111">Activity (counts)</text>
      <text transform={`translate(15.5,${rowMid(5)}) rotate(-90)`} textAnchor="middle" fontSize={12.5} fontFamily={FONT} fill="#111">Food intake (kcal/h)</text>
      <text x={651} y={43.5} textAnchor="middle" fontSize={12.5} fontFamily={FONT} fill="#111">Light</text>
      <text x={810} y={43.5} textAnchor="middle" fontSize={12.5} fontFamily={FONT} fill="#111">Dark</text>
      <text x={44} y={135} fontSize={12.5} fontFamily={FONT} fill="#111">Acclimation:</text>
      {leg(49, 145.7, "circle", BLACK, "22 °C", "la1", 58, 12.5)}
      {leg(49, 160, "square", PURPLE, "30 °C", "la2", 58, 12.5)}
      {leg(188.5, 145.7, "circle", BLACK, "C57BL/6J", "lb1", 196, 12.5)}
      {leg(188.5, 160, "square", GREEN, "129", "lb2", 196, 12.5)}
      {leg(326.7, 144.5, "circle", BLACK, "129 males", "lc1", 337, 12)}
      {leg(326.7, 158.5, "square", RED, "129 females", "lc2", 337, 12)}
      <line x1={460} x2={471} y1={134.5} y2={134.5} stroke={BLACK} strokeWidth={1.3} strokeDasharray="3,2" />
      <text x={475.5} y={138.7} fontSize={12} fontFamily={FONT} fill="#111">Light</text>
      {leg(464, 148.3, "square", BLUE1, "Dark expt 1", "ld1", 475.5, 12)}
      {leg(464, 162.3, "square", BLUE2, "Dark expt 2", "ld2", 475.5, 12)}
      {leg(610, 145.7, "circle", BLACK, "Chamber", "le1", 620.5, 12.5)}
      {leg(610, 160, "square", PINK, "Home cage", "le2", 620.5, 12.5)}
      {leg(745.7, 146.7, "square", BLACK, "Chamber", "lf1", 755.5, 12.5)}
      {leg(745.7, 161.3, "square", ORANGE, "Home cage", "lf2", 755.5, 12.5)}
      {leg(463.3, 554.5, "circle", BLACK, "Light", "lr1", 473.3, 11)}
      {leg(463.3, 567, "square", BLUE1, "Dark expt 1", "lr2", 473.3, 11)}
      {leg(463.3, 579.5, "square", BLUE2, "Dark expt 2", "lr3", 473.3, 11)}
    </svg>
  );
}
